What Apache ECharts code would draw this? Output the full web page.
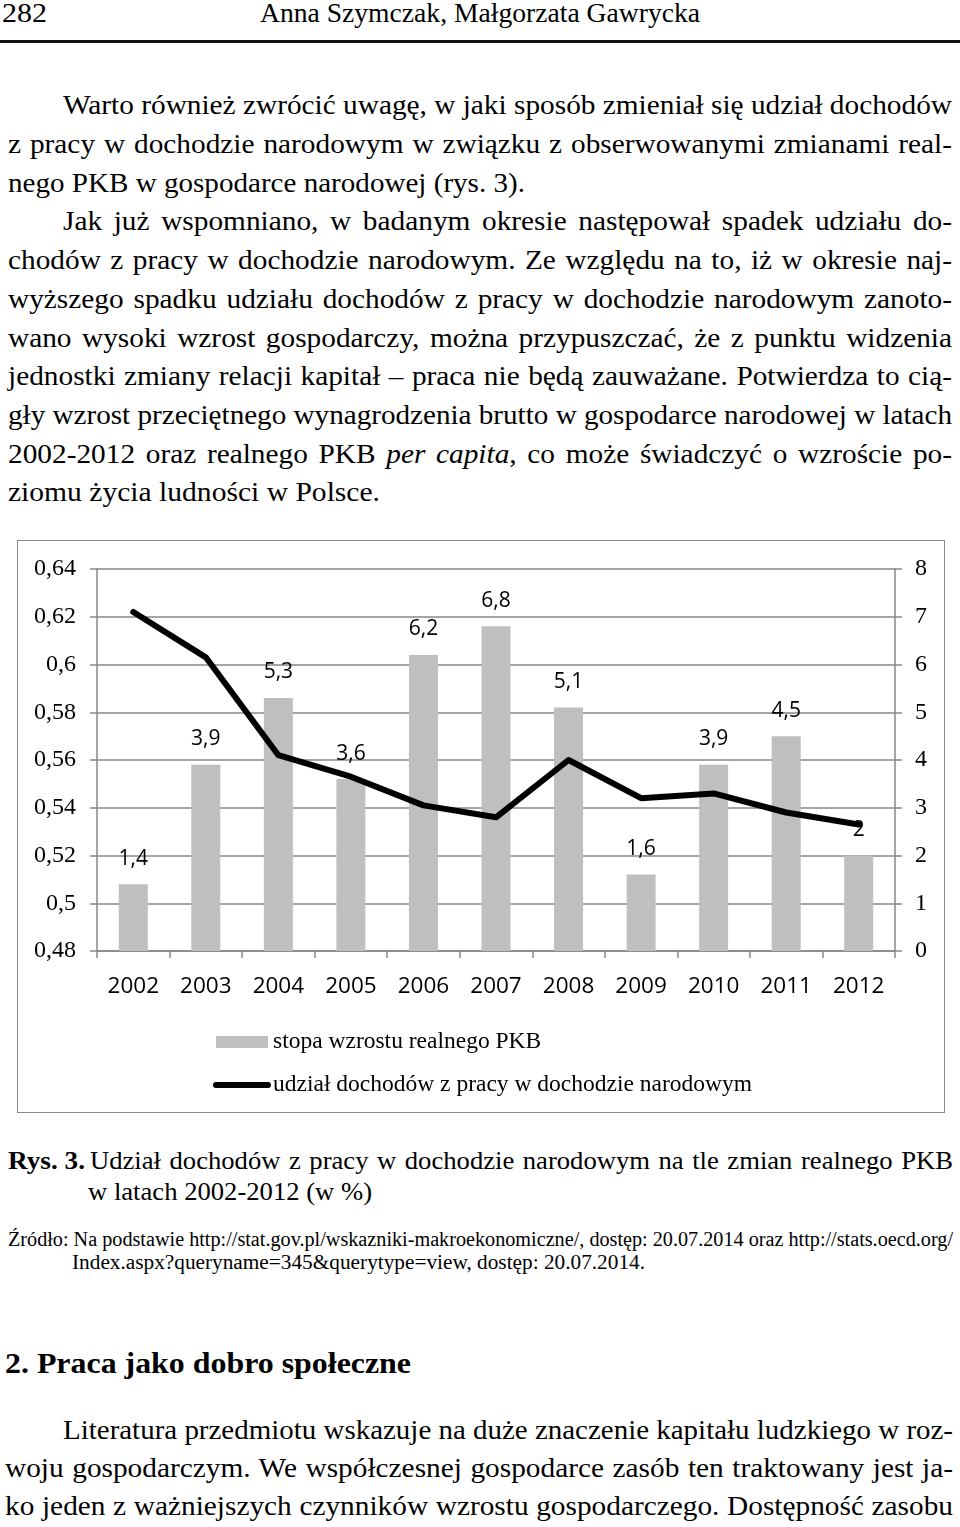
<!DOCTYPE html>
<html>
<head>
<meta charset="utf-8">
<script src="https://cdn.jsdelivr.net/npm/echarts@6/dist/echarts.min.js"></script>
<style>
body{margin:0;background:#fff;width:960px;height:1527px;position:relative;overflow:hidden;font-family:'Liberation Serif','Times New Roman',serif;color:#000}
.ln{position:absolute;white-space:nowrap;transform-origin:0 50%}
#rule{position:absolute;left:0;top:40px;width:960px;height:3px;background:#111}
#frame{position:absolute;left:17px;top:540px;width:928px;height:573px;border:1.5px solid #8a8a8a;box-sizing:border-box}
#chart{position:absolute;left:17px;top:540px;width:928px;height:573px}
</style>
</head>
<body>
<div id="rule"></div>
<div id="frame"></div>
<div id="chart"></div>
<script>
var years = ['2002','2003','2004','2005','2006','2007','2008','2009','2010','2011','2012'];
var pkbGrowth = [1.4, 3.9, 5.3, 3.6, 6.2, 6.8, 5.1, 1.6, 3.9, 4.5, 2];
var laborShare = [0.622, 0.603, 0.562, 0.553, 0.541, 0.536, 0.560, 0.544, 0.546, 0.538, 0.533];
var seriesNames = ['stopa wzrostu realnego PKB', 'udział dochodów z pracy w dochodzie narodowym'];

// page text: x start, x end, baseline, size, bold, mode, group, text
// mode 'fit' = squeeze/stretch to the width (and sets the group stretch), 'just' = justify with group stretch
var lines = [
  [2, 47, 23, 27, false, 'fit', '', '282'],
  [260, 700, 23, 27, false, 'fit', '', 'Anna Szymczak, Małgorzata Gawrycka'],
  [8, 525, 192.4, 27, false, 'fit', 'p', 'nego PKB w gospodarce narodowej (rys. 3).'],
  [8, 380, 502, 27, false, 'fit', 'p', 'ziomu życia ludności w Polsce.'],
  [63, 952, 115, 27, false, 'just', 'p', 'Warto również zwrócić uwagę, w jaki sposób zmieniał się udział dochodów'],
  [8, 952, 153.7, 27, false, 'just', 'p', 'z pracy w dochodzie narodowym w związku z obserwowanymi zmianami real-'],
  [63, 952, 231, 27, false, 'just', 'p', 'Jak już wspomniano, w badanym okresie następował spadek udziału do-'],
  [8, 952, 269.8, 27, false, 'just', 'p', 'chodów z pracy w dochodzie narodowym. Ze względu na to, iż w okresie naj-'],
  [8, 952, 308.5, 27, false, 'just', 'p', 'wyższego spadku udziału dochodów z pracy w dochodzie narodowym zanoto-'],
  [8, 952, 347.2, 27, false, 'just', 'p', 'wano wysoki wzrost gospodarczy, można przypuszczać, że z punktu widzenia'],
  [8, 952, 386, 27, false, 'just', 'p', 'jednostki zmiany relacji kapitał \u2013 praca nie będą zauważane. Potwierdza to cią-'],
  [8, 952, 424.6, 27, false, 'just', 'p', 'gły wzrost przeciętnego wynagrodzenia brutto w gospodarce narodowej w latach'],
  [8, 952, 463.3, 27, false, 'just', 'p', '2002-2012 oraz realnego PKB <i>per capita</i>, co może świadczyć o wzroście po-'],
  [8, 85, 1169, 25, true, 'fit', '', 'Rys. 3.'],
  [88, 372, 1200, 25, false, 'fit', 'c', 'w latach 2002-2012 (w %)'],
  [90, 953, 1169, 25, false, 'just', 'c', 'Udział dochodów z pracy w dochodzie narodowym na tle zmian realnego PKB'],
  [72, 645, 1269, 20, false, 'fit', 's', 'Index.aspx?queryname=345&amp;querytype=view, dostęp: 20.07.2014.'],
  [8, 953, 1246, 20, false, 'just', 's', 'Źródło: Na podstawie http://stat.gov.pl/wskazniki-makroekonomiczne/, dostęp: 20.07.2014 oraz http://stats.oecd.org/'],
  [5, 411, 1373, 29, true, 'fit', '', '2. Praca jako dobro społeczne'],
  [63, 953, 1440, 27, false, 'just', 'p', 'Literatura przedmiotu wskazuje na duże znaczenie kapitału ludzkiego w roz-'],
  [5, 953, 1478, 27, false, 'just', 'p', 'woju gospodarczym. We współczesnej gospodarce zasób ten traktowany jest ja-'],
  [5, 953, 1516, 27, false, 'just', 'p', 'ko jeden z ważniejszych czynników wzrostu gospodarczego. Dostępność zasobu']
];

var stretch = {};
lines.forEach(function(l) {
    var d = document.createElement('div');
    d.className = 'ln';
    d.style.left = l[0] + 'px';
    d.style.fontSize = l[3] + 'px';
    d.style.lineHeight = l[3] + 'px';
    d.style.top = (l[2] - 0.8375 * l[3]) + 'px';
    if (l[4]) d.style.fontWeight = 'bold';
    d.innerHTML = l[7];
    document.body.appendChild(d);
    var w = d.getBoundingClientRect().width;
    var target = l[1] - l[0];
    var s = target / w;
    if (l[5] == 'fit') {
        if (l[6]) {
            stretch[l[6]] = stretch[l[6]] ? (stretch[l[6]] + s) / 2 : s;
        }
    } else {
        var gs = stretch[l[6]] || 1;
        var spaces = (d.textContent.match(/ /g) || []).length;
        if (w * gs < target && spaces) {
            s = gs;
            d.style.wordSpacing = ((target - w * gs) / spaces / gs) + 'px';
        }
    }
    d.style.transform = 'scaleX(' + s + ')';
});

function comma(v) {
    return String(+(+v).toFixed(2)).replace('.', ',');
}

var gridGray = '#878787';
var chart = echarts.init(document.getElementById('chart'));
chart.setOption({
    animation: false,
    grid: { left: 80, right: 50, top: 29, bottom: 162 },
    legend: {
        orient: 'vertical',
        left: 196,
        top: 490,
        padding: 0,
        itemWidth: 52,
        itemHeight: 12,
        itemGap: 19,
        textStyle: { fontFamily: 'Liberation Serif', fontSize: 23.5, color: '#000' },
        data: [
            { name: seriesNames[0], icon: 'rect' },
            { name: seriesNames[1], lineStyle: { width: 6, cap: 'round' }, itemStyle: { opacity: 0 } }
        ]
    },
    xAxis: {
        type: 'category',
        data: years,
        axisLine: { lineStyle: { color: gridGray, width: 1.5 } },
        axisTick: { show: true, length: 7, lineStyle: { color: gridGray, width: 1.5 } },
        axisLabel: { fontFamily: 'Open Sans', fontSize: 22.5, color: '#000', margin: 24 }
    },
    yAxis: [
        {
            type: 'value',
            min: 0.48,
            max: 0.64,
            interval: 0.02,
            axisLine: { show: true, lineStyle: { color: gridGray, width: 1.5 } },
            axisTick: { show: true, length: 7, lineStyle: { color: gridGray, width: 1.5 } },
            splitLine: { lineStyle: { color: gridGray, width: 1.5 } },
            axisLabel: { fontFamily: 'Liberation Serif', fontSize: 24, color: '#000', margin: 21, formatter: comma }
        },
        {
            type: 'value',
            min: 0,
            max: 8,
            interval: 1,
            position: 'right',
            axisLine: { show: true, lineStyle: { color: gridGray, width: 1.5 } },
            axisTick: { show: true, length: 7, lineStyle: { color: gridGray, width: 1.5 } },
            splitLine: { show: false },
            axisLabel: { fontFamily: 'Liberation Serif', fontSize: 24, color: '#000', margin: 20 }
        }
    ],
    series: [
        {
            name: seriesNames[0],
            type: 'bar',
            yAxisIndex: 1,
            data: pkbGrowth,
            barWidth: 29,
            itemStyle: { color: '#bfbfbf' },
            label: {
                show: true,
                position: 'top',
                distance: 15,
                fontFamily: 'Open Sans',
                fontSize: 21,
                color: '#000',
                formatter: function(p) { return comma(p.value); }
            }
        },
        {
            name: seriesNames[1],
            type: 'line',
            yAxisIndex: 0,
            data: laborShare,
            symbol: 'none',
            z: 5,
            lineStyle: { color: '#000', width: 6, cap: 'round', join: 'round' },
            itemStyle: { color: '#000' }
        }
    ]
});
</script>
</body>
</html>
